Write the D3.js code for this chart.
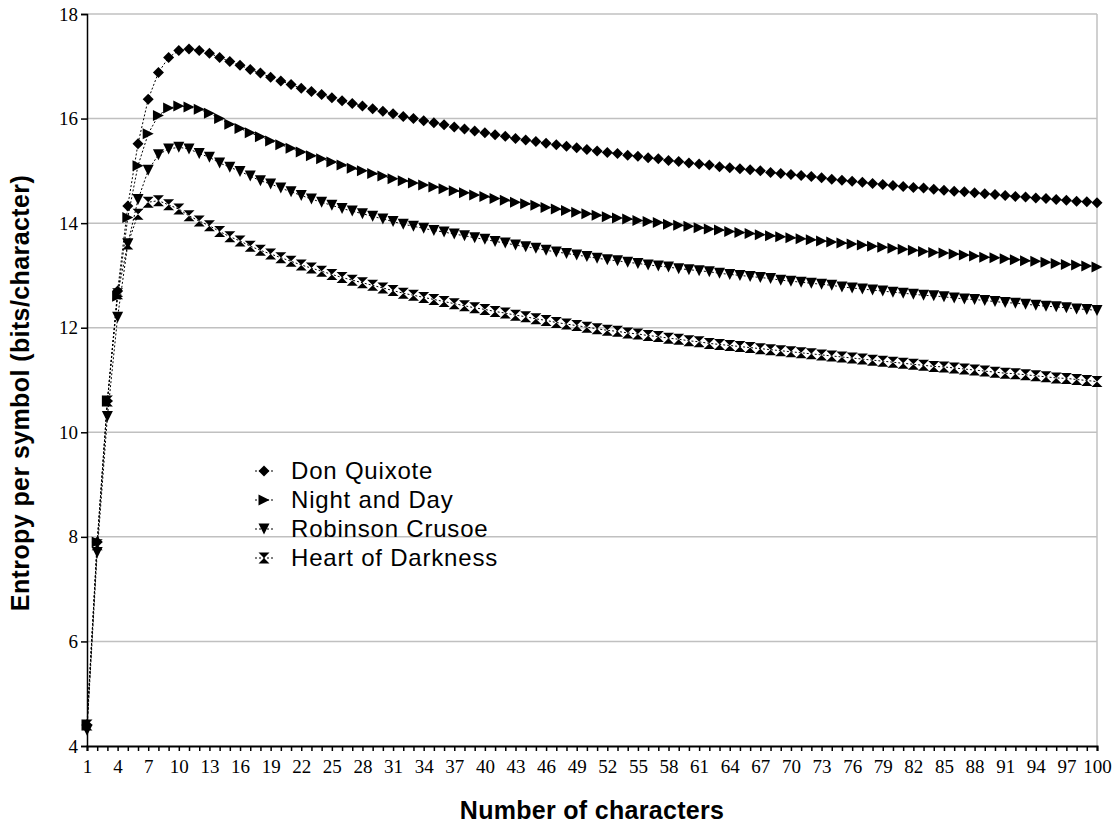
<!DOCTYPE html>
<html lang="en">
<head>
<meta charset="UTF-8" />
<title>Entropy per symbol</title>
<script src="https://d3js.org/d3.v7.min.js"></script>
<style>
  body { margin: 0; background: #fff; }
  .tick text { font-family: "Liberation Serif", "Times New Roman", serif; font-size: 19px; fill: #000; }
  .axis-title { font-family: "Liberation Sans", Arial, sans-serif; font-weight: bold; font-size: 25px; }
  .legend text { font-family: "Liberation Sans", Arial, sans-serif; font-size: 24px; }
</style>
</head>
<body>
<div id="chart"></div>
<script>
// categories: number of characters
const categories = d3.range(1, 101);
const yTicks = [4, 6, 8, 10, 12, 14, 16, 18];

const donQuixote = [
  4.4, 7.9, 10.6, 12.7, 14.33, 15.52, 16.37, 16.88, 17.17, 17.30,
  17.33, 17.30, 17.25, 17.17, 17.09, 17.02, 16.94, 16.87, 16.79, 16.72,
  16.65, 16.58, 16.52, 16.46, 16.40, 16.34, 16.29, 16.24, 16.19, 16.14,
  16.09, 16.04, 16.00, 15.96, 15.92, 15.88, 15.84, 15.80, 15.76, 15.73,
  15.69, 15.66, 15.62, 15.59, 15.56, 15.53, 15.50, 15.47, 15.44, 15.41,
  15.38, 15.35, 15.33, 15.30, 15.28, 15.25, 15.23, 15.20, 15.18, 15.15,
  15.13, 15.11, 15.08, 15.06, 15.04, 15.02, 15.00, 14.97, 14.95, 14.93,
  14.91, 14.89, 14.87, 14.84, 14.82, 14.80, 14.78, 14.76, 14.74, 14.72,
  14.70, 14.68, 14.67, 14.65, 14.63, 14.61, 14.60, 14.58, 14.56, 14.55,
  14.53, 14.51, 14.50, 14.48, 14.47, 14.45, 14.44, 14.42, 14.41, 14.39
];
const nightAndDay = [
  4.4, 7.9, 10.6, 12.6, 14.11, 15.10, 15.71, 16.06, 16.20, 16.24,
  16.22, 16.18, 16.10, 16.00, 15.89, 15.81, 15.73, 15.65, 15.57, 15.50,
  15.43, 15.36, 15.29, 15.23, 15.17, 15.11, 15.05, 15.00, 14.95, 14.90,
  14.85, 14.81, 14.77, 14.73, 14.69, 14.66, 14.62, 14.58, 14.54, 14.51,
  14.47, 14.44, 14.40, 14.37, 14.34, 14.30, 14.27, 14.24, 14.21, 14.18,
  14.15, 14.12, 14.10, 14.08, 14.05, 14.03, 14.01, 13.98, 13.96, 13.94,
  13.91, 13.89, 13.87, 13.84, 13.82, 13.80, 13.78, 13.76, 13.74, 13.72,
  13.70, 13.68, 13.66, 13.64, 13.62, 13.60, 13.58, 13.56, 13.54, 13.52,
  13.50, 13.48, 13.46, 13.44, 13.43, 13.41, 13.39, 13.37, 13.35, 13.34,
  13.32, 13.30, 13.28, 13.27, 13.25, 13.23, 13.21, 13.20, 13.18, 13.16
];
const robinsonCrusoe = [
  4.3, 7.7, 10.3, 12.2, 13.6, 14.45, 15.01, 15.31, 15.42, 15.45,
  15.42, 15.33, 15.26, 15.15, 15.07, 14.99, 14.90, 14.81, 14.75, 14.67,
  14.60, 14.53, 14.46, 14.40, 14.34, 14.28, 14.23, 14.18, 14.13, 14.08,
  14.03, 13.98, 13.94, 13.90, 13.86, 13.83, 13.79, 13.76, 13.72, 13.69,
  13.65, 13.62, 13.58, 13.55, 13.52, 13.48, 13.45, 13.42, 13.39, 13.36,
  13.33, 13.30, 13.28, 13.25, 13.23, 13.20, 13.18, 13.16, 13.13, 13.11,
  13.09, 13.07, 13.04, 13.02, 13.00, 12.98, 12.96, 12.94, 12.91, 12.89,
  12.87, 12.85, 12.83, 12.81, 12.78, 12.76, 12.74, 12.72, 12.70, 12.68,
  12.66, 12.64, 12.62, 12.61, 12.59, 12.57, 12.55, 12.54, 12.52, 12.50,
  12.48, 12.47, 12.45, 12.43, 12.41, 12.40, 12.38, 12.36, 12.35, 12.33
];
const heartOfDarkness = [
  4.4, 7.85, 10.6, 12.65, 13.6, 14.17, 14.40, 14.43, 14.35, 14.27,
  14.14, 14.04, 13.95, 13.84, 13.74, 13.66, 13.56, 13.48, 13.41, 13.34,
  13.27, 13.20, 13.14, 13.08, 13.02, 12.96, 12.91, 12.86, 12.81, 12.76,
  12.71, 12.66, 12.62, 12.58, 12.54, 12.50, 12.46, 12.42, 12.38, 12.35,
  12.31, 12.28, 12.24, 12.21, 12.17, 12.14, 12.10, 12.07, 12.04, 12.01,
  11.98, 11.95, 11.93, 11.90, 11.88, 11.85, 11.83, 11.80, 11.78, 11.75,
  11.73, 11.70, 11.68, 11.66, 11.64, 11.62, 11.60, 11.58, 11.56, 11.54,
  11.52, 11.50, 11.48, 11.46, 11.44, 11.42, 11.40, 11.38, 11.36, 11.34,
  11.32, 11.30, 11.28, 11.26, 11.25, 11.23, 11.21, 11.19, 11.17, 11.15,
  11.13, 11.12, 11.10, 11.08, 11.06, 11.04, 11.03, 11.01, 10.99, 10.97
];

const seriesNames = ["Don Quixote", "Night and Day", "Robinson Crusoe", "Heart of Darkness"];
const seriesValues = [donQuixote, nightAndDay, robinsonCrusoe, heartOfDarkness];

// marker shapes (size = half width in px)
const diamond = { draw(c, r) { c.moveTo(0, -r); c.lineTo(r, 0); c.lineTo(0, r); c.lineTo(-r, 0); c.closePath(); } };
const triRight = { draw(c, r) { c.moveTo(-r, -r); c.lineTo(r, 0); c.lineTo(-r, r); c.closePath(); } };
const triDown = { draw(c, r) { c.moveTo(-r, -r); c.lineTo(r, -r); c.lineTo(0, r); c.closePath(); } };
const hourglass = { draw(c, r) { c.moveTo(-r, -r); c.lineTo(r, -r); c.lineTo(-r, r); c.lineTo(r, r); c.closePath(); } };
const shapes = [diamond, triRight, triDown, hourglass];

const W = 1115, H = 828;
const pLeft = 87, pRight = 1097, pTop = 14, pBottom = 746;

const svg = d3.select("#chart").append("svg")
  .attr("width", W).attr("height", H);

const x = d3.scaleLinear().domain([1, 100]).range([pLeft, pRight]);
const y = d3.scaleLinear().domain([4, 18]).range([pBottom, pTop]);

// gridlines
svg.append("g")
  .selectAll("line")
  .data(yTicks.slice(1))
  .join("line")
  .attr("x1", pLeft).attr("x2", pRight)
  .attr("y1", d => y(d)).attr("y2", d => y(d))
  .attr("stroke", "#c0c0c0").attr("stroke-width", 1.5);

// right border of plot area
svg.append("line")
  .attr("x1", pRight).attr("x2", pRight)
  .attr("y1", pTop).attr("y2", pBottom)
  .attr("stroke", "#c0c0c0").attr("stroke-width", 1.5);

// series
const line = d3.line().x((d, i) => x(categories[i])).y(d => y(d));
const sym = d3.symbol();

seriesValues.forEach((vals, s) => {
  svg.append("path")
    .datum(vals)
    .attr("d", line)
    .attr("fill", "none")
    .attr("stroke", "#000")
    .attr("stroke-width", 1)
    .attr("stroke-dasharray", "2,2");

  svg.append("g")
    .selectAll("path")
    .data(vals)
    .join("path")
    .attr("transform", (d, i) => `translate(${x(categories[i])},${y(d)})`)
    .attr("d", sym.type(shapes[s]).size(5.5)())
    .attr("fill", "#000");
});

// axes
const xAxis = svg.append("g")
  .attr("transform", `translate(0,${pBottom})`)
  .call(d3.axisBottom(x)
    .tickValues(categories)
    .tickSize(5)
    .tickPadding(9)
    .tickFormat(d => (d - 1) % 3 === 0 ? d : ""));
xAxis.select(".domain").attr("stroke-width", 2);
xAxis.selectAll(".tick line").attr("stroke-width", 1.5);

const yAxis = svg.append("g")
  .attr("transform", `translate(${pLeft},0)`)
  .call(d3.axisLeft(y)
    .tickValues(yTicks)
    .tickSize(6)
    .tickPadding(3));
yAxis.select(".domain").attr("stroke-width", 1.5);
yAxis.selectAll(".tick line").attr("stroke-width", 1.5);

// axis titles
svg.append("text")
  .attr("class", "axis-title")
  .attr("transform", "translate(29,393) rotate(-90)")
  .attr("text-anchor", "middle")
  .style("letter-spacing", "0.4px")
  .text("Entropy per symbol (bits/character)");

svg.append("text")
  .attr("class", "axis-title")
  .attr("x", (pLeft + pRight) / 2)
  .attr("y", 819)
  .attr("text-anchor", "middle")
  .style("letter-spacing", "0.3px")
  .text("Number of characters");

// legend
const legend = svg.append("g").attr("class", "legend")
  .attr("transform", "translate(255,471)");

seriesNames.forEach((name, i) => {
  const g = legend.append("g").attr("transform", `translate(0,${i * 29})`);
  g.append("line")
    .attr("x1", 0).attr("x2", 20).attr("y1", 0).attr("y2", 0)
    .attr("stroke", "#000").attr("stroke-dasharray", "2,2");
  g.append("path")
    .attr("transform", "translate(9,0)")
    .attr("d", sym.type(shapes[i]).size(5.5)())
    .attr("fill", "#000");
  g.append("text")
    .attr("x", 36).attr("y", 8)
    .style("letter-spacing", "0.8px")
    .text(name);
});
</script>
</body>
</html>
